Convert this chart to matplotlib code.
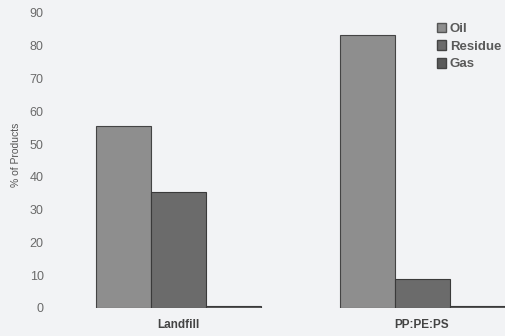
import numpy as np
import matplotlib.pyplot as plt
from matplotlib.patches import Patch

plt.rcParams['font.family'] = ['Liberation Sans', 'DejaVu Sans']

groups = ['Landfill', 'PP:PE:PS']
oil = [55.5, 83.2]
residue = [35.5, 8.8]
gas = [0.7, 0.7]
y_ticks = [0, 10, 20, 30, 40, 50, 60, 70, 80, 90]

W, H = 506, 336
fig = plt.figure(figsize=(W / 100, H / 100), dpi=100)
fig.patch.set_facecolor('#f2f3f5')

# axes placed in pixel terms: bottom at y=308, top at y=13, left at x=70
left, right = 70, 506
bottom, top = 308, 13
ax = fig.add_axes([left / W, (H - bottom) / H, (right - left) / W, (bottom - top) / H])
ax.set_facecolor('none')

x = np.arange(len(groups))
w = 55 / 244
oil_c, res_c, gas_c = '#8e8e8e', '#6b6b6b', '#5a5a5a'
ax.bar(x - w, oil, w, color=oil_c, edgecolor='#444444', linewidth=0.8)
ax.bar(x, residue, w, color=res_c, edgecolor='#3a3a3a', linewidth=0.8)
ax.bar(x + w, gas, w, color=gas_c, edgecolor='#3a3a3a', linewidth=0.8)

ax.set_xlim((left - 178) / 244, (right - 178) / 244)
ax.set_ylim(0, 90)
ax.set_yticks(y_ticks)
ax.set_yticklabels([str(t) for t in y_ticks], fontsize=9, color='#6a6a6a')
ax.set_xticks(x)
ax.set_xticklabels(groups, fontsize=8.5, fontweight='bold', color='#444444')
ax.tick_params(axis='y', length=0, pad=19)
ax.tick_params(axis='x', length=0, pad=8)
for s in ax.spines.values():
    s.set_visible(False)

fig.text(16 / W, 1 - 155 / H, '% of Products', rotation=90, ha='center', va='center',
         fontsize=7.5, color='#555555')

handles = [Patch(facecolor=oil_c, edgecolor='#555555', label='Oil'),
           Patch(facecolor=res_c, edgecolor='#444444', label='Residue'),
           Patch(facecolor=gas_c, edgecolor='#444444', label='Gas')]
leg = fig.legend(handles=handles, loc='upper left', bbox_to_anchor=(430 / W, 1 - 16 / H),
                 frameon=False, fontsize=9.5, handlelength=0.75, handleheight=0.75,
                 handletextpad=0.25, labelspacing=0.4, borderpad=0)
for t in leg.get_texts():
    t.set_color('#5a5a5a')
    t.set_fontweight('bold')

fig.savefig('out.png', dpi=100, facecolor=fig.get_facecolor())
